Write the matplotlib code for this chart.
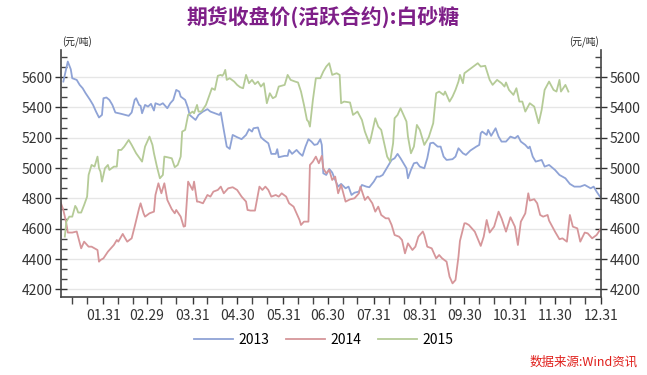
import matplotlib
matplotlib.use('Agg')
import matplotlib.pyplot as plt
from matplotlib.ticker import MultipleLocator, FixedLocator

plt.rcParams['font.family'] = ['Noto Sans CJK SC', 'DejaVu Sans']

# 横軸は閏年カレンダーの通日（1/1 = 1）。
days_2013 = [4, 7, 9, 10, 13, 15, 17, 19, 22, 24, 26, 28, 30, 31, 33, 35, 37, 39, 43, 48,
             50, 52, 53, 55, 56, 57, 59, 61, 63, 65, 66, 69, 71, 74, 76, 78, 80, 82, 83, 86,
             88, 89, 93, 95, 98, 101, 103, 106, 109, 110, 112, 114, 116, 118, 121, 124, 127, 129, 131, 132,
             135, 137, 139, 142, 144, 147, 148, 149, 153, 155, 156, 158, 161, 163, 165, 167, 169, 171, 173, 175,
             177, 178, 179, 181, 183, 185, 187, 189, 191, 194, 196, 198, 200, 203, 205, 208, 210, 213, 215, 217,
             219, 221, 223, 225, 227, 229, 231, 233, 235, 236, 238, 240, 242, 244, 247, 249, 251, 253, 256, 258,
             260, 262, 266, 268, 270, 273, 275, 278, 282, 284, 285, 286, 289, 290, 292, 295, 297, 299, 302, 305,
             308, 310, 312, 315, 317, 318, 320, 322, 326, 328, 331, 335, 338, 342, 345, 348, 352, 355, 359, 361,
             363, 366]
price_2013 = [5571, 5703, 5652, 5593, 5582, 5549, 5527, 5494, 5450, 5417, 5373, 5334, 5351, 5461, 5466, 5450, 5417, 5367, 5358, 5345,
              5367, 5450, 5461, 5417, 5411, 5362, 5417, 5406, 5424, 5380, 5428, 5417, 5428, 5395, 5428, 5450, 5516, 5505, 5472, 5450,
              5395, 5351, 5318, 5351, 5373, 5389, 5373, 5362, 5351, 5367, 5252, 5142, 5127, 5219, 5204, 5191, 5219, 5257, 5241, 5263,
              5268, 5204, 5186, 5164, 5094, 5094, 5125, 5072, 5081, 5081, 5120, 5094, 5120, 5098, 5081, 5142, 5191, 5175, 5153, 5158,
              5191, 5153, 4966, 4955, 4995, 4971, 4922, 4878, 4896, 4867, 4878, 4823, 4838, 4845, 4889, 4878, 4874, 4911, 4944, 4944,
              4955, 4988, 5021, 5054, 5065, 5094, 5065, 5032, 4999, 4933, 4988, 5032, 5037, 5010, 4999, 5065, 5164, 5168, 5142, 5142,
              5076, 5054, 5059, 5076, 5131, 5098, 5087, 5116, 5142, 5153, 5230, 5241, 5219, 5252, 5213, 5263, 5208, 5175, 5175, 5208,
              5197, 5213, 5175, 5153, 5131, 5142, 5076, 5043, 5054, 5010, 5021, 4988, 4955, 4933, 4896, 4878, 4878, 4889, 4867, 4878,
              4845, 4801]

days_2014 = [2, 4, 6, 7, 10, 13, 16, 18, 21, 23, 25, 27, 28, 29, 31, 34, 38, 40, 41, 44,
             45, 47, 50, 52, 55, 56, 58, 59, 62, 65, 66, 68, 70, 72, 74, 77, 79, 80, 83, 85,
             86, 88, 91, 92, 94, 95, 98, 101, 103, 105, 108, 110, 112, 115, 118, 121, 124, 127, 128, 130,
             133, 136, 138, 140, 142, 144, 147, 149, 151, 154, 156, 159, 161, 163, 164, 166, 169, 170, 172, 174,
             176, 178, 179, 181, 183, 185, 187, 189, 191, 194, 197, 200, 203, 204, 207, 209, 212, 214, 216, 218,
             221, 223, 225, 227, 230, 232, 234, 236, 239, 241, 243, 246, 247, 249, 252, 255, 257, 259, 262, 264,
             266, 268, 270, 271, 274, 275, 277, 281, 285, 287, 289, 291, 294, 297, 299, 302, 305, 308, 310, 312,
             315, 317, 318, 321, 323, 325, 327, 330, 331, 335, 338, 340, 343, 345, 347, 350, 352, 355, 357, 360,
             363, 366]
price_2014 = [4779, 4724, 4636, 4575, 4575, 4582, 4471, 4515, 4482, 4482, 4471, 4460, 4383, 4394, 4405, 4449, 4493, 4526, 4515, 4566,
              4548, 4515, 4537, 4614, 4735, 4768, 4702, 4680, 4702, 4713, 4823, 4900, 4834, 4900, 4790, 4729, 4702, 4724, 4680, 4614,
              4618, 4911, 4856, 4911, 4779, 4779, 4768, 4823, 4812, 4845, 4856, 4878, 4834, 4867, 4874, 4856, 4812, 4779, 4724, 4720,
              4720, 4878, 4856, 4878, 4856, 4812, 4823, 4812, 4834, 4812, 4768, 4746, 4702, 4658, 4625, 4647, 4647, 5021, 5043, 5076,
              5032, 5081, 4999, 4966, 4988, 4922, 4944, 4834, 4889, 4779, 4794, 4801, 4834, 4878, 4790, 4812, 4768, 4713, 4746, 4691,
              4669, 4669, 4625, 4559, 4548, 4526, 4438, 4504, 4460, 4482, 4548, 4582, 4559, 4482, 4471, 4405, 4427, 4405, 4383, 4284,
              4240, 4262, 4416, 4520, 4636, 4636, 4625, 4581, 4487, 4548, 4658, 4575, 4614, 4713, 4669, 4581, 4676, 4614, 4493, 4647,
              4702, 4834, 4786, 4795, 4768, 4691, 4680, 4691, 4654, 4581, 4531, 4537, 4515, 4691, 4614, 4603, 4515, 4575, 4570, 4537,
              4559, 4603]

days_2015 = [5, 6, 8, 10, 12, 13, 14, 16, 18, 20, 21, 23, 25, 26, 27, 28, 29, 30, 32, 34,
             35, 38, 40, 41, 43, 45, 48, 50, 53, 57, 59, 62, 64, 65, 67, 69, 71, 72, 74, 77,
             79, 81, 83, 84, 86, 88, 91, 92, 94, 95, 97, 100, 102, 104, 106, 108, 110, 111, 112, 113,
             114, 116, 119, 121, 123, 125, 127, 129, 131, 133, 135, 137, 139, 141, 143, 145, 147, 149, 153, 155,
             157, 160, 162, 164, 166, 168, 169, 170, 172, 174, 177, 179, 181, 182, 183, 185, 188, 190, 191, 193,
             197, 199, 202, 205, 207, 210, 211, 214, 216, 218, 220, 222, 224, 226, 227, 229, 231, 233, 235, 236,
             238, 240, 242, 244, 247, 250, 253, 255, 257, 260, 261, 264, 266, 268, 270, 271, 273, 274, 277, 283,
             285, 288, 291, 293, 296, 299, 301, 302, 304, 307, 309, 311, 313, 315, 318, 321, 324, 326, 328, 331,
             334, 336, 338, 339, 342, 344]
price_2015 = [4548, 4647, 4680, 4680, 4751, 4735, 4707, 4707, 4757, 4812, 4955, 5021, 5010, 5043, 5076, 4999, 4977, 4911, 4999, 5021,
              4988, 5010, 5010, 5120, 5120, 5142, 5186, 5153, 5098, 5043, 5142, 5208, 5153, 5098, 5010, 4933, 4955, 5076, 5072, 5065,
              5006, 5021, 5076, 5241, 5252, 5351, 5373, 5362, 5417, 5373, 5373, 5417, 5472, 5527, 5516, 5609, 5615, 5609, 5622, 5648,
              5582, 5593, 5571, 5549, 5534, 5527, 5615, 5560, 5582, 5554, 5571, 5538, 5560, 5428, 5494, 5461, 5472, 5538, 5549, 5615,
              5582, 5571, 5565, 5505, 5417, 5318, 5307, 5274, 5450, 5593, 5593, 5637, 5670, 5681, 5692, 5615, 5626, 5615, 5428, 5439,
              5433, 5351, 5373, 5318, 5241, 5164, 5197, 5329, 5274, 5252, 5164, 5076, 5043, 5164, 5329, 5351, 5395, 5351, 5307, 5208,
              5098, 5142, 5285, 5252, 5153, 5204, 5296, 5494, 5505, 5483, 5505, 5439, 5472, 5516, 5571, 5615, 5560, 5626, 5648, 5692,
              5670, 5675, 5582, 5549, 5582, 5560, 5538, 5565, 5516, 5483, 5527, 5439, 5439, 5373, 5428, 5406, 5296, 5384, 5516, 5571,
              5516, 5505, 5582, 5505, 5549, 5505]

# 月末の目盛り（閏年の通日）とラベル。
month_end_days = [31, 60, 91, 121, 152, 182, 213, 244, 274, 305, 335, 366]
month_end_labels = ['01.31', '02.29', '03.31', '04.30', '05.31', '06.30',
                    '07.31', '08.31', '09.30', '10.31', '11.30', '12.31']


def main():
    fig = plt.figure(figsize=(6.47, 3.75), dpi=100)
    ax = fig.add_axes([0.094, 0.208, 0.835, 0.659])

    ax.plot(days_2013, price_2013, color='#8fa3d6', lw=1.3, label='2013')
    ax.plot(days_2014, price_2014, color='#d6969a', lw=1.3, label='2014')
    ax.plot(days_2015, price_2015, color='#b5cb97', lw=1.3, label='2015')

    ax.set_xlim(2.3, 366)
    ax.set_ylim(4150, 5780)

    # x軸：月末が主目盛り、10日ごとに補助目盛り。
    ax.xaxis.set_major_locator(FixedLocator(month_end_days))
    ax.set_xticklabels(month_end_labels)
    minor_x = [d + k for d in [0] + month_end_days[:-1] for k in (10, 20)]
    ax.xaxis.set_minor_locator(FixedLocator(minor_x))

    # y軸：左右両方に目盛り。
    ax.yaxis.set_major_locator(MultipleLocator(200))
    ax.yaxis.set_minor_locator(MultipleLocator(200 / 3))
    ax.tick_params(axis='y', which='major', direction='inout', length=8, width=1,
                   right=True, labelright=True, labelsize=10, colors='#333333', pad=2)
    ax.tick_params(axis='y', which='minor', direction='in', length=4, width=1,
                   right=True, colors='#444444')
    ax.tick_params(axis='x', which='major', direction='out', length=5, width=1,
                   labelsize=10, colors='#333333', pad=4)
    ax.tick_params(axis='x', which='minor', direction='out', length=5, width=1, colors='#444444')

    ax.grid(axis='y', which='major', color='#e6e6e6', lw=1)
    ax.set_axisbelow(True)

    ax.spines['top'].set_visible(False)
    for side in ('left', 'right', 'bottom'):
        ax.spines[side].set_color('#444444')
        ax.spines[side].set_linewidth(1.2)

    # 単位
    fig.text(0.096, 0.872, '(元/吨)', fontsize=7, color='#222222', ha='left', va='bottom')
    fig.text(0.926, 0.872, '(元/吨)', fontsize=7, color='#222222', ha='right', va='bottom')

    fig.text(0.5, 0.952, '期货收盘价(活跃合约):白砂糖', fontsize=15, fontweight='bold',
             color='#7e1f88', ha='center', va='center')

    fig.legend(loc='center', bbox_to_anchor=(0.5, 1 - 340 / 375), ncol=3, frameon=False,
               fontsize=10, handlelength=2.8, columnspacing=1.2, handletextpad=0.4)

    fig.text(0.985, 1 - 362 / 375, '数据来源:Wind资讯', fontsize=9, color='#e0201c',
             style='italic', ha='right', va='center')

    plt.savefig('out.png', dpi=100)


if __name__ == '__main__':
    main()
